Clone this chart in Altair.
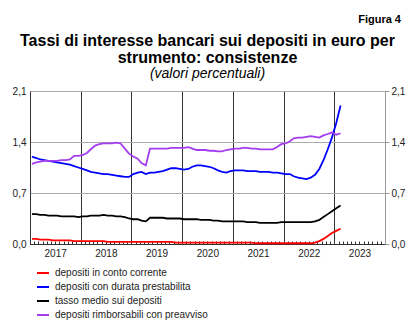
import altair as alt
import pandas as pd

series_names = [
    "depositi in conto corrente",
    "depositi con durata prestabilita",
    "tasso medio sui depositi",
    "depositi rimborsabili con preavviso",
]
series_colors = ["#ff0000", "#0000ff", "#000000", "#a43cf0"]

# monthly observations, Jan 2017 - Feb 2023
conto_corrente = [
    0.07, 0.07, 0.06, 0.06, 0.06, 0.05, 0.05, 0.05, 0.05, 0.05, 0.04, 0.04,
    0.04, 0.04, 0.04, 0.04, 0.04, 0.04, 0.03, 0.03, 0.03, 0.03, 0.03, 0.03,
    0.03, 0.03, 0.03, 0.03, 0.03, 0.03, 0.03, 0.03, 0.03, 0.03, 0.02, 0.02,
    0.02, 0.02, 0.02, 0.02, 0.02, 0.02, 0.02, 0.02, 0.02, 0.02, 0.02, 0.02,
    0.02, 0.02, 0.02, 0.02, 0.02, 0.01, 0.01, 0.01, 0.01, 0.01, 0.01, 0.01,
    0.01, 0.01, 0.01, 0.01, 0.01, 0.01, 0.01, 0.02, 0.04, 0.07, 0.11, 0.15,
    0.18, 0.21,
]
durata_prestabilita = [
    1.20, 1.18, 1.16, 1.15, 1.14, 1.13, 1.12, 1.11, 1.10, 1.09, 1.07, 1.05,
    1.03, 1.01, 0.99, 0.98, 0.97, 0.96, 0.96, 0.95, 0.94, 0.93, 0.92, 0.92,
    0.96, 0.98, 0.99, 0.96, 0.98, 0.98, 0.99, 1.00, 1.02, 1.04, 1.04, 1.03,
    1.02, 1.03, 1.06, 1.08, 1.08, 1.07, 1.06, 1.04, 1.01, 0.99, 0.98, 1.00,
    1.01, 1.01, 1.01, 1.00, 1.00, 1.00, 0.99, 0.99, 0.99, 0.98, 0.98, 0.97,
    0.96, 0.96, 0.93, 0.91, 0.90, 0.89, 0.91, 0.95, 1.03, 1.15, 1.30, 1.46,
    1.66, 1.90,
]
tasso_medio = [
    0.41, 0.41, 0.40, 0.40, 0.39, 0.39, 0.39, 0.38, 0.38, 0.38, 0.38, 0.37,
    0.38, 0.38, 0.39, 0.39, 0.39, 0.40, 0.39, 0.39, 0.38, 0.38, 0.37, 0.35,
    0.34, 0.34, 0.32, 0.31, 0.36, 0.36, 0.36, 0.36, 0.35, 0.35, 0.35, 0.35,
    0.34, 0.34, 0.34, 0.34, 0.33, 0.33, 0.33, 0.32, 0.32, 0.31, 0.31, 0.31,
    0.31, 0.31, 0.31, 0.30, 0.30, 0.30, 0.29, 0.29, 0.29, 0.29, 0.29, 0.30,
    0.30, 0.30, 0.30, 0.30, 0.30, 0.30, 0.30, 0.31, 0.33, 0.37, 0.41, 0.45,
    0.49, 0.53,
]
preavviso = [
    1.10, 1.12, 1.13, 1.14, 1.14, 1.14, 1.14, 1.15, 1.15, 1.16, 1.21, 1.21,
    1.22, 1.25, 1.30, 1.35, 1.37, 1.38, 1.38, 1.38, 1.39, 1.38, 1.31, 1.24,
    1.20, 1.17, 1.11, 1.08, 1.31, 1.31, 1.31, 1.31, 1.31, 1.32, 1.32, 1.32,
    1.32, 1.33, 1.31, 1.29, 1.29, 1.29, 1.28, 1.28, 1.27, 1.27, 1.29, 1.30,
    1.31, 1.31, 1.32, 1.32, 1.31, 1.31, 1.30, 1.30, 1.30, 1.30, 1.33, 1.37,
    1.38, 1.41, 1.45, 1.46, 1.46, 1.47, 1.48, 1.47, 1.46, 1.49, 1.51, 1.53,
    1.50, 1.52,
]

y_ticks = [0, 0.7, 1.4, 2.1]
year_bounds = list(range(2018, 2024))

dates = pd.date_range("2017-01-01", periods=len(tasso_medio), freq="MS") + pd.Timedelta(days=14)

rows = []
for name, vals in zip(series_names, [conto_corrente, durata_prestabilita, tasso_medio, preavviso]):
    for d, v in zip(dates, vals):
        rows.append({"date": d, "value": v, "serie": name})
df = pd.DataFrame(rows)

month_df = pd.DataFrame({"d": pd.date_range("2017-01-01", "2024-01-01", freq="MS")})

x_domain = [alt.DateTime(year=2017, month=1, date=1), alt.DateTime(year=2024, month=1, date=1)]
x_scale = alt.Scale(domain=x_domain)
y_scale = alt.Scale(domain=[0, 2.1], nice=False, zero=True)
FONT = "Liberation Sans"
lab_expr = "replace(format(datum.value, '.1f'), '.', ',')"

lines = alt.Chart(df).mark_line(strokeWidth=1.8).encode(
    x=alt.X("date:T", scale=x_scale, title=None,
            axis=alt.Axis(orient="bottom",
                          values=[alt.DateTime(year=y, month=1, date=1) for y in year_bounds],
                          grid=True, gridColor="#333333", gridWidth=1, labels=False, ticks=False,
                          domain=True, domainColor="#333333")),
    y=alt.Y("value:Q", scale=y_scale, title=None,
            axis=alt.Axis(orient="left", values=y_ticks, grid=True, gridColor="#aaaaaa",
                          ticks=False, labelExpr=lab_expr, labelPadding=4,
                          domainColor="#333333", labelFont=FONT, labelFontSize=10,
                          labelColor="#222222")),
    color=alt.Color("serie:N", scale=alt.Scale(domain=series_names, range=series_colors),
                    sort=series_names,
                    legend=alt.Legend(title=None, orient="none", legendX=6, legendY=175,
                                      direction="vertical", symbolType="stroke",
                                      symbolSize=144, symbolStrokeWidth=2,
                                      labelFont=FONT, labelFontSize=10, labelColor="#222222",
                                      labelOffset=5, rowPadding=2, padding=0)),
)

month_ticks = alt.Chart(month_df).mark_point(opacity=0).encode(
    x=alt.X("d:T", scale=x_scale, title=None,
            axis=alt.Axis(orient="bottom",
                          values=[alt.DateTime(year=d.year, month=d.month, date=1) for d in month_df["d"]],
                          tickSize=3, offset=-3, domain=False, grid=False,
                          tickColor="#333333", labelPadding=4, labelOverlap=False,
                          labelExpr="month(datum.value) == 6 ? timeFormat(datum.value, '%Y') : ''",
                          labelFont=FONT, labelFontSize=10, labelColor="#222222")),
)

right_axis = alt.Chart(df).mark_point(opacity=0).encode(
    y=alt.Y("value:Q", scale=y_scale, title=None,
            axis=alt.Axis(orient="right", values=y_ticks, grid=False, tickSize=4,
                          tickColor="#999999", domainColor="#999999", labelPadding=2,
                          labelExpr=lab_expr, labelFont=FONT, labelFontSize=10,
                          labelColor="#222222")),
)

figura = alt.Chart(pd.DataFrame({"t": ["Figura 4"]})).mark_text(
    font=FONT, fontSize=11, fontWeight="bold", align="right", baseline="middle", color="#000000"
).encode(text="t:N", x=alt.value(371), y=alt.value(-71))

chart = alt.layer(lines, month_ticks, right_axis, figura).resolve_axis(
    x="independent", y="independent"
).properties(
    width=355, height=153,
    autosize=alt.AutoSizeParams(type="none"),
    padding={"left": 30, "top": 91, "right": 30, "bottom": 83},
    title=alt.TitleParams(
        text=["Tassi di interesse bancari sui depositi in euro per", "strumento: consistenze"],
        subtitle="(valori percentuali)",
        font=FONT, fontSize=16, fontWeight="bold", lineHeight=17, color="#000000",
        subtitleFont=FONT, subtitleFontSize=14, subtitleFontStyle="italic",
        subtitleColor="#000000", subtitlePadding=1, anchor="middle", offset=-67,
    ),
).configure_view(stroke="#999999").configure(background="white")

chart.save("out.html", embed_options={"renderer": "svg", "actions": False})
